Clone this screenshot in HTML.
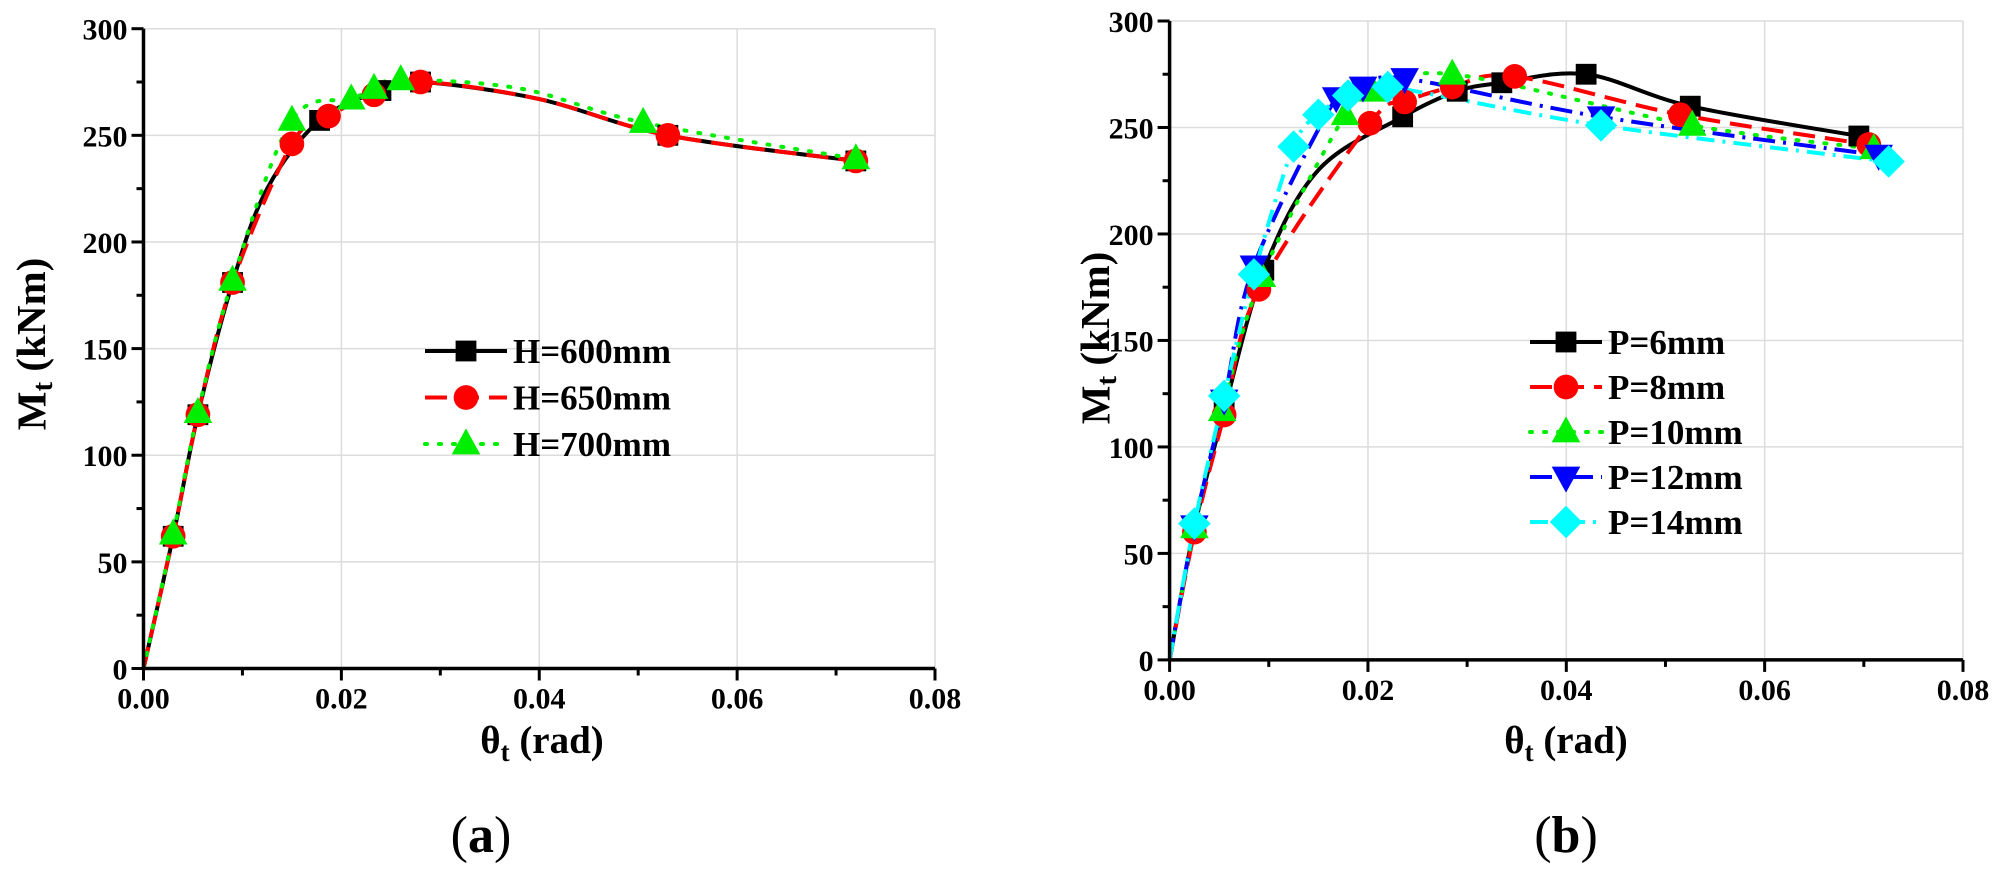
<!DOCTYPE html>
<html><head><meta charset="utf-8"><style>
html,body{margin:0;padding:0;background:#fff;}
svg{display:block;}
text{font-family:"Liberation Serif","Times New Roman",serif;}
</style></head><body>
<svg id="s" width="2000" height="872" viewBox="0 0 2000 872" xmlns="http://www.w3.org/2000/svg">
<g id="g"></g>
<text x="36" y="344" font-size="41" font-weight="bold" text-anchor="middle" transform="rotate(-90 36 344)" dominant-baseline="middle">M<tspan font-size="29" dy="9">t</tspan><tspan dy="-9"> (kNm)</tspan></text>
<text x="1100" y="338" font-size="41" font-weight="bold" text-anchor="middle" transform="rotate(-90 1100 338)" dominant-baseline="middle">M<tspan font-size="29" dy="9">t</tspan><tspan dy="-9"> (kNm)</tspan></text>
<text x="542" y="753" font-size="39" font-weight="bold" text-anchor="middle">θ<tspan font-size="27" dy="8">t</tspan><tspan dy="-8"> (rad)</tspan></text>
<text x="1566" y="753" font-size="39" font-weight="bold" text-anchor="middle">θ<tspan font-size="27" dy="8">t</tspan><tspan dy="-8"> (rad)</tspan></text>
<text x="481" y="852" font-size="52" text-anchor="middle">(<tspan font-weight="bold">a</tspan>)</text>
<text x="1566" y="852" font-size="52" text-anchor="middle">(<tspan font-weight="bold">b</tspan>)</text>
</svg>
<script>
var NS="http://www.w3.org/2000/svg",G=document.getElementById('g');
function el(t,a,p){var e=document.createElementNS(NS,t);for(var k in a)e.setAttribute(k,a[k]);(p||G).appendChild(e);return e;}
function txt(x,y,s,anchor,fs){var e=el('text',{x:x,y:y,'text-anchor':anchor||'end','font-weight':'bold','font-size':fs||30},G);e.textContent=s;return e;}
function spline(P){var d='M'+P[0][0]+','+P[0][1];for(var i=0;i<P.length-1;i++){var p0=P[i-1]||P[i],p1=P[i],p2=P[i+1],p3=P[i+2]||P[i+1];var t=6;d+=' C'+(p1[0]+(p2[0]-p0[0])/t)+','+(p1[1]+(p2[1]-p0[1])/t)+' '+(p2[0]-(p3[0]-p1[0])/t)+','+(p2[1]-(p3[1]-p1[1])/t)+' '+p2[0]+','+p2[1];}return d;}
function marker(type,x,y,c,s){s=s||13;
 if(type=='sq')el('rect',{x:x-s*0.8,y:y-s*0.8,width:s*1.6,height:s*1.6,fill:c});
 else if(type=='ci')el('circle',{cx:x,cy:y,r:s*0.95,fill:c});
 else if(type=='tu')el('polygon',{points:(x)+','+(y-s*1.2)+' '+(x-s*1.1)+','+(y+s*0.8)+' '+(x+s*1.1)+','+(y+s*0.8),fill:c});
 else if(type=='td')el('polygon',{points:(x)+','+(y+s*1.2)+' '+(x-s*1.1)+','+(y-s*0.8)+' '+(x+s*1.1)+','+(y-s*0.8),fill:c});
 else if(type=='di')el('polygon',{points:(x)+','+(y-s*1.25)+' '+(x+s*1.25)+','+(y)+' '+(x)+','+(y+s*1.25)+' '+(x-s*1.25)+','+(y),fill:c});}
function plot(o){
 var X=function(v){return o.x0+v/0.08*(o.x1-o.x0)},Y=function(v){return o.y0+v/300*(o.y1-o.y0)};
 for(var i=1;i<=4;i++)el('line',{x1:X(i*0.02),x2:X(i*0.02),y1:o.y0,y2:o.y1,stroke:'#dcdcdc','stroke-width':1.5});
 for(var j=1;j<=6;j++)el('line',{x1:o.x0,x2:o.x1,y1:Y(j*50),y2:Y(j*50),stroke:'#dcdcdc','stroke-width':1.5});
 o.series.forEach(function(s){var P=s.d.map(function(p){return [X(p[0]),Y(p[1])]});
  el('path',{d:spline(P),fill:'none',stroke:s.c,'stroke-width':4,'stroke-dasharray':s.da||'none','stroke-linecap':s.da=='2 12'?'round':'butt'});});
 o.series.forEach(function(s){s.d.forEach(function(p,k){if(k>0&&p[2]!==0)marker(s.m,X(p[0]),Y(p[1]),s.c);});});
 el('line',{x1:o.x0,x2:o.x0,y1:o.y0+1,y2:o.y1,stroke:'#000','stroke-width':3.5});
 el('line',{x1:o.x0-1,x2:o.x1,y1:o.y0,y2:o.y0,stroke:'#000','stroke-width':3.5});
 for(var j=0;j<=12;j++){var y=Y(j*25);el('line',{x1:o.x0,x2:o.x0-(j%2?7:12),y1:y,y2:y,stroke:'#000','stroke-width':3});if(j%2==0)txt(o.x0-16,y+11,String(j*25));}
 for(var i=0;i<=8;i++){var x=X(i*0.01);el('line',{x1:x,x2:x,y1:o.y0,y2:o.y0+(i%2?7:12),stroke:'#000','stroke-width':3});if(i%2==0)txt(x,o.y0+40,(i*0.01).toFixed(2),'middle');}
 o.series.forEach(function(s,k){var y=o.ly+k*o.ldy;el('line',{x1:o.lx,x2:o.lx+o.lw,y1:y,y2:y,stroke:s.c,'stroke-width':4,'stroke-dasharray':s.da||'none','stroke-linecap':s.da=='2 12'?'round':'butt'});marker(s.m,o.lx+o.lw/2,y,s.c);txt(o.lx+o.lw+6,y+12,s.n,'start',35);});
}
plot({x0:143.5,x1:935,y0:668.5,y1:28.7,lx:425,lw:82,ly:351,ldy:46.5,series:[
 {n:'H=600mm',c:'#000',m:'sq',d:[[0,0],[0.003,62],[0.0055,119],[0.009,181],[0.0125,225,0],[0.0178,257],[0.024,271],[0.028,275],[0.04,267,0],[0.053,250],[0.072,238]]},
 {n:'H=650mm',c:'#ff0000',m:'ci',da:'22 10',d:[[0,0],[0.003,62],[0.0055,119],[0.009,181],[0.015,246],[0.0187,259],[0.0233,269],[0.028,275],[0.04,267,0],[0.053,250],[0.072,238]]},
 {n:'H=700mm',c:'#00ee00',m:'tu',da:'2 12',d:[[0,0],[0.003,63],[0.0055,120],[0.009,182],[0.015,257],[0.021,267],[0.0233,272],[0.026,276],[0.038,272,0],[0.0505,256],[0.072,239]]}]});
plot({x0:1169.6,x1:1963,y0:659.9,y1:21,lx:1530,lw:72,ly:342,ldy:45,series:[
 {n:'P=6mm',c:'#000',m:'sq',d:[[0,0],[0.0025,62],[0.0055,117],[0.0095,183],[0.015,230,0],[0.0235,255],[0.029,267],[0.0335,271],[0.042,275],[0.0525,260],[0.0695,246]]},
 {n:'P=8mm',c:'#ff0000',m:'ci',da:'22 10',d:[[0,0],[0.0025,60],[0.0055,115],[0.009,174],[0.0202,252],[0.0237,262],[0.0285,269],[0.0348,274],[0.0515,256],[0.0705,242]]},
 {n:'P=10mm',c:'#00ee00',m:'tu',da:'2 12',d:[[0,0],[0.0025,62],[0.0053,117],[0.0093,180],[0.0177,256],[0.0205,267],[0.0285,275],[0.0527,251],[0.071,240]]},
 {n:'P=12mm',c:'#0000ff',m:'td',da:'22 8 3 8',d:[[0,0],[0.0025,63],[0.0055,122],[0.0085,185],[0.0168,264],[0.0195,269],[0.0237,273],[0.0435,255],[0.0715,237]]},
 {n:'P=14mm',c:'#00ffff',m:'di',da:'18 8 3 8',d:[[0,0],[0.0025,64],[0.0055,124],[0.0085,181],[0.0125,241],[0.015,256],[0.018,265],[0.022,269],[0.0435,251],[0.0725,234]]}]});
</script>
</body></html>
